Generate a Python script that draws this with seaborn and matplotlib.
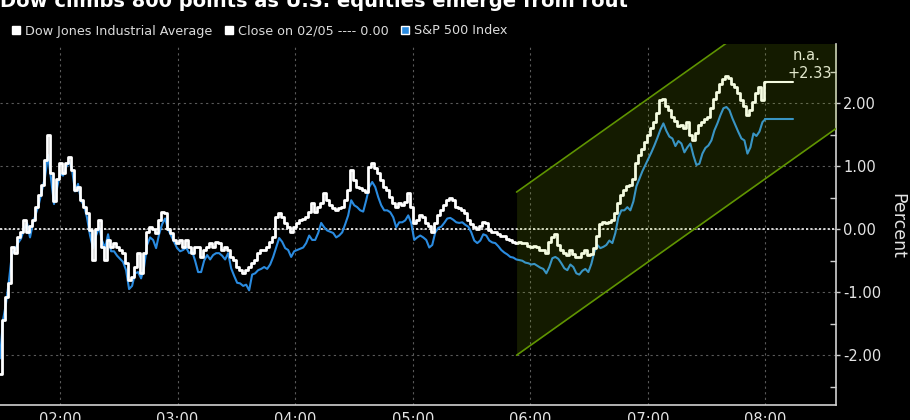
import matplotlib

matplotlib.use("Agg")

import matplotlib.dates as mdates
import matplotlib.pyplot as plt
import pandas as pd
import seaborn as sns
from matplotlib.patches import Patch
from matplotlib.ticker import FormatStrFormatter, MultipleLocator

# percent change vs. prior close, sampled ~every 1.5 min through the session
DAY = "2018-02-06"
SESSION = ["01:29:24", "08:00"]

DOW = [
    -2.30, -1.44, -1.08, -0.86, -0.29, -0.38, -0.13, -0.05, 0.14, -0.05,
    0.05, 0.14, 0.35, 0.55, 0.70, 1.10, 1.50, 0.90, 0.45, 0.80,
    1.05, 0.89, 1.05, 1.14, 0.94, 0.62, 0.67, 0.46, 0.35, 0.25,
    -0.02, -0.49, 0.00, 0.14, -0.29, -0.49, -0.17, -0.29, -0.22, -0.29,
    -0.33, -0.38, -0.54, -0.81, -0.76, -0.60, -0.38, -0.70, -0.38, -0.05,
    0.03, 0.00, -0.06, 0.14, 0.27, 0.25, 0.00, -0.06, -0.17, -0.22,
    -0.17, -0.29, -0.17, -0.29, -0.38, -0.29, -0.29, -0.44, -0.33, -0.29,
    -0.22, -0.29, -0.20, -0.22, -0.33, -0.29, -0.33, -0.44, -0.49, -0.60,
    -0.65, -0.70, -0.65, -0.60, -0.54, -0.49, -0.38, -0.33, -0.33, -0.29,
    -0.20, -0.13, 0.20, 0.25, 0.19, 0.10, 0.03, -0.05, 0.03, 0.10,
    0.14, 0.17, 0.19, 0.27, 0.41, 0.27, 0.35, 0.41, 0.57, 0.46,
    0.38, 0.33, 0.30, 0.33, 0.35, 0.46, 0.62, 0.94, 0.78, 0.67,
    0.65, 0.62, 0.59, 0.98, 1.05, 0.97, 0.89, 0.78, 0.67, 0.62,
    0.51, 0.41, 0.35, 0.41, 0.38, 0.43, 0.57, 0.35, 0.10, 0.14,
    0.22, 0.20, 0.10, 0.05, -0.05, 0.10, 0.22, 0.30, 0.38, 0.46,
    0.49, 0.46, 0.35, 0.33, 0.30, 0.25, 0.15, 0.08, 0.03, 0.00,
    0.05, 0.12, 0.10, -0.02, -0.05, -0.04, -0.08, -0.10, -0.10, -0.15,
    -0.17, -0.20, -0.22, -0.21, -0.22, -0.22, -0.27, -0.29, -0.26, -0.29,
    -0.33, -0.33, -0.38, -0.20, -0.12, -0.07, -0.25, -0.33, -0.38, -0.41,
    -0.33, -0.40, -0.44, -0.44, -0.38, -0.33, -0.41, -0.40, -0.30, -0.10,
    0.08, 0.12, 0.10, 0.11, 0.14, 0.25, 0.42, 0.55, 0.62, 0.68,
    0.70, 0.80, 1.05, 1.18, 1.28, 1.38, 1.50, 1.60, 1.70, 1.85,
    2.05, 2.06, 1.96, 1.90, 1.78, 1.72, 1.64, 1.66, 1.60, 1.70,
    1.50, 1.42, 1.52, 1.66, 1.70, 1.75, 1.78, 1.92, 2.06, 2.18,
    2.30, 2.38, 2.44, 2.40, 2.31, 2.26, 2.16, 2.05, 1.96, 1.82,
    1.90, 2.02, 2.16, 2.25, 2.05, 2.33,
]

SPX = [
    -2.05, -1.44, -1.18, -0.81, -0.38, -0.33, -0.22, -0.15, 0.00, 0.10,
    -0.13, 0.10, 0.25, 0.41, 0.62, 0.83, 1.18, 0.80, 0.40, 0.65,
    0.89, 0.85, 0.98, 1.08, 0.95, 0.60, 0.72, 0.45, 0.38, 0.18,
    -0.10, -0.30, -0.10, 0.03, -0.18, -0.30, -0.08, -0.35, -0.35, -0.42,
    -0.47, -0.52, -0.65, -0.95, -0.90, -0.70, -0.68, -0.78, -0.60, -0.25,
    -0.13, -0.17, -0.30, -0.08, 0.08, 0.17, 0.00, -0.10, -0.20, -0.30,
    -0.35, -0.33, -0.29, -0.38, -0.35, -0.50, -0.68, -0.68, -0.50, -0.41,
    -0.48, -0.41, -0.38, -0.38, -0.42, -0.48, -0.38, -0.62, -0.74, -0.85,
    -0.86, -0.90, -0.88, -0.97, -0.72, -0.70, -0.65, -0.63, -0.60, -0.63,
    -0.56, -0.44, -0.29, -0.14, -0.20, -0.30, -0.33, -0.44, -0.35, -0.33,
    -0.31, -0.29, -0.22, -0.10, -0.17, -0.17, -0.06, 0.10, 0.03, -0.02,
    -0.04, -0.06, -0.13, -0.10, -0.05, 0.08, 0.22, 0.46, 0.38, 0.35,
    0.30, 0.28, 0.46, 0.67, 0.75, 0.67, 0.51, 0.38, 0.30, 0.30,
    0.27, 0.19, 0.03, 0.11, 0.11, 0.14, 0.22, 0.10, -0.17, -0.13,
    -0.10, -0.13, -0.17, -0.29, -0.25, -0.05, 0.02, 0.04, 0.10, 0.17,
    0.18, 0.15, 0.11, 0.10, 0.11, 0.07, 0.04, -0.05, -0.18, -0.22,
    -0.18, -0.08, -0.10, -0.18, -0.21, -0.22, -0.27, -0.33, -0.37, -0.40,
    -0.44, -0.45, -0.48, -0.49, -0.50, -0.53, -0.54, -0.56, -0.55, -0.58,
    -0.61, -0.63, -0.70, -0.60, -0.46, -0.44, -0.47, -0.54, -0.62, -0.65,
    -0.56, -0.60, -0.70, -0.72, -0.66, -0.63, -0.68, -0.55, -0.36, -0.25,
    -0.30, -0.28, -0.25, -0.18, -0.22, -0.06, 0.19, 0.30, 0.30, 0.35,
    0.30, 0.44, 0.68, 0.80, 0.92, 1.02, 1.12, 1.22, 1.33, 1.45,
    1.58, 1.68, 1.56, 1.47, 1.44, 1.32, 1.40, 1.36, 1.22, 1.30,
    1.36, 1.17, 1.02, 1.04, 1.20, 1.29, 1.33, 1.41, 1.57, 1.68,
    1.81, 1.92, 1.94, 1.89, 1.76, 1.65, 1.54, 1.44, 1.41, 1.20,
    1.30, 1.52, 1.48, 1.55, 1.70, 1.75,
]

DOW_LAST = 2.33
SPX_LAST = 1.75
LAST_UNTIL = "08:14"

# trend channel drawn on the chart
CHANNEL_TIMES = ["05:53", "08:37"]
CHANNEL_LOWER = [-2.00, 1.62]
CHANNEL_UPPER = [0.59, 4.21]

X_RANGE = ["01:29:24", "08:36"]
Y_RANGE = [-2.79, 2.94]

TITLE = "Dow climbs 800 points as U.S. equities emerge from rout"
LEGEND_LABELS = ["Dow Jones Industrial Average", "Close on 02/05 ---- 0.00", "S&P 500 Index"]

BLUE = "#2a8be0"


def ts(hhmm):
    return pd.Timestamp(f"{DAY} {hhmm}")


sns.set_theme(style="dark", rc={
    "figure.facecolor": "black",
    "axes.facecolor": "black",
    "text.color": "#e4e4e4",
    "xtick.color": "#e4e4e4",
    "ytick.color": "#e4e4e4",
    "axes.labelcolor": "#e4e4e4",
})
plt.rcParams["font.family"] = ["DejaVu Sans"]

times = pd.date_range(ts(SESSION[0]), ts(SESSION[1]), periods=len(DOW))
spx_times = pd.date_range(ts(SESSION[0]), ts(SESSION[1]), periods=len(SPX))
tail = [ts(SESSION[1]), ts(LAST_UNTIL)]
ch_t = [ts(t) for t in CHANNEL_TIMES]

fig = plt.figure(figsize=(9.1, 4.2), dpi=100)
ax = fig.add_axes([0.0, 15 / 420, 836 / 910, 361 / 420])

sns.lineplot(x=spx_times, y=SPX, color=BLUE, lw=1.5, ax=ax, zorder=2)
sns.lineplot(x=tail, y=[SPX_LAST, SPX_LAST], color=BLUE, lw=1.5, ax=ax, zorder=2)
sns.lineplot(x=times, y=DOW, color="white", lw=2.0, drawstyle="steps-mid", ax=ax, zorder=2.5)
sns.lineplot(x=tail, y=[DOW_LAST, DOW_LAST], color="white", lw=1.5, ax=ax, zorder=2.5)

ax.fill_between(ch_t, CHANNEL_LOWER, CHANNEL_UPPER, color="#a8e000", alpha=0.12, lw=0, zorder=3)
ax.plot(ch_t, CHANNEL_LOWER, color="#5f9400", lw=1.2, zorder=3.5)
ax.plot(ch_t, CHANNEL_UPPER, color="#5f9400", lw=1.2, zorder=3.5)

ax.axhline(0, color="#e8e8e8", ls=(0, (1.2, 1.2)), lw=1.3, zorder=1)

ax.set_xlim(ts(X_RANGE[0]), ts(X_RANGE[1]))
ax.set_ylim(*Y_RANGE)

ax.xaxis.set_major_locator(mdates.HourLocator())
ax.xaxis.set_minor_locator(mdates.MinuteLocator(byminute=30))
ax.xaxis.set_major_formatter(mdates.DateFormatter("%H:%M"))
ax.yaxis.set_major_locator(MultipleLocator(1))
ax.yaxis.set_minor_locator(MultipleLocator(0.5))
ax.yaxis.set_major_formatter(FormatStrFormatter("%.2f"))
ax.yaxis.tick_right()
ax.yaxis.set_label_position("right")

ax.grid(True, which="major", color="#5a5a5a", ls=(0, (2, 3)), lw=0.8)
ax.set_axisbelow(True)
ax.tick_params(axis="both", which="major", labelsize=10.5, length=3, width=1, color="#d0d0d0", pad=2)
ax.tick_params(axis="both", which="minor", length=4, width=1, color="#d0d0d0", direction="in")

for side in ("left", "top"):
    ax.spines[side].set_visible(False)
for side in ("right", "bottom"):
    ax.spines[side].set_color("#d0d0d0")
    ax.spines[side].set_linewidth(1.2)

ax.set_xlabel("")
ax.set_ylabel("Percent", rotation=270, fontsize=12.5, va="center")
ax.yaxis.set_label_coords(1.073, 0.496)

ax.annotate(f"{DOW_LAST:+.2f}", xy=(1, DOW_LAST), xycoords=("axes fraction", "data"),
            xytext=(-3, 1), textcoords="offset points", ha="right", va="bottom",
            fontsize=10.5, color="#e2e8cc", zorder=5)
ax.annotate("n.a.", xy=(1, DOW_LAST), xycoords=("axes fraction", "data"),
            xytext=(-11, 14), textcoords="offset points", ha="right", va="bottom",
            fontsize=10.5, color="#e2e8cc", zorder=5)

fig.text(0.0, 1 - 7 / 420, TITLE, fontsize=14, fontweight="bold", color="white",
         ha="left", va="baseline")

handles = [Patch(facecolor="white"), Patch(facecolor="white"), Patch(facecolor=BLUE)]
fig.legend(handles, LEGEND_LABELS, loc="center left", bbox_to_anchor=(12 / 910, 1 - 31 / 420),
           ncol=3, frameon=False, handlelength=0.65, handleheight=0.65, handletextpad=0.35,
           columnspacing=1.0, borderaxespad=0, borderpad=0,
           prop={"size": 9.2}, labelcolor="#dcdcdc")

fig.savefig("out.png", dpi=100, facecolor="black")
